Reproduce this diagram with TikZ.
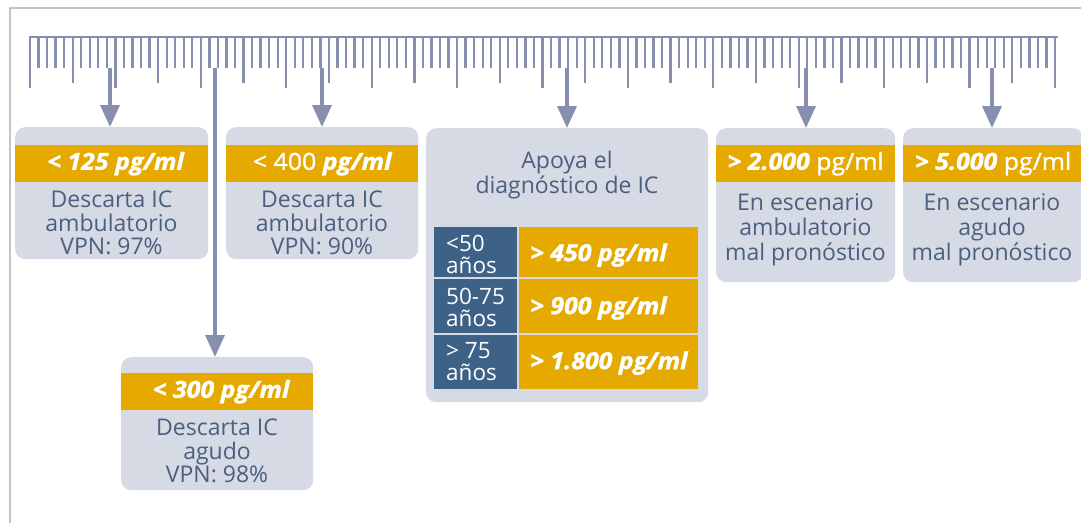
\documentclass[tikz,border=0pt]{standalone}
\usepackage{fontspec}
\setmainfont{Open Sans}
\newfontfamily\hfont[FakeStretch=1.06,FakeBold=1.3]{Open Sans}
\usetikzlibrary{arrows.meta}
\definecolor{boxfill}{HTML}{D6DAE4}
\definecolor{amber}{HTML}{E5A900}
\definecolor{slate}{HTML}{4B5F7F}
\definecolor{steel}{HTML}{3E6187}
\definecolor{rulec}{HTML}{8690AE}
\definecolor{framec}{HTML}{C4C4C4}
\begin{document}
\begin{tikzpicture}[x=1pt,y=-1pt,
  box/.style={fill=boxfill, draw=none, rounded corners=10pt, inner sep=0pt, anchor=north west},
  band/.style={fill=amber, draw=none, inner sep=0pt, minimum height=37pt, anchor=north west, text=white, font=\hfont\fontsize{23.5}{26}\selectfont},
  body/.style={text=slate, align=center, inner sep=0pt, font=\fontsize{23}{23.5}\selectfont},
  bluecell/.style={fill=steel, draw=none, inner sep=0pt, minimum width=83pt, anchor=north west},
  ambercell/.style={fill=amber, draw=none, inner sep=0pt, minimum width=179pt, anchor=north west},
  celltxt/.style={text=white, align=left, inner sep=0pt, anchor=west, font=\fontsize{22.5}{22}\selectfont},
  valtxt/.style={text=white, inner sep=0pt, anchor=west, font=\hfont\fontsize{23.5}{26}\selectfont\bfseries\itshape},
  arr/.style={draw=rulec, line width=3.5pt, -{Triangle[width=19pt,length=22pt]}}
]
\useasboundingbox (0,0) rectangle (1081,522);
\clip (0,0) rectangle (1081,522);
\draw[framec, line width=2.5pt] (10,8) rectangle (1200,600);

% ruler
\draw[rulec, line width=2pt] (29,37) -- (1058,37);
\foreach \i in {0,...,120}{
  \pgfmathtruncatemacro\m{mod(\i,10)}
  \pgfmathtruncatemacro\f{mod(\i,5)}
  \ifnum\m=0 \def\yb{88}\else\ifnum\f=0 \def\yb{83}\else\def\yb{68}\fi\fi
  \draw[rulec, line width=2.3pt] ({30+\i*8.5417},37) -- ({30+\i*8.5417},\yb);
}

% boxes
\node[box, minimum width=193pt, minimum height=132pt] (b1) at (15,127) {};
\node[box, minimum width=192pt, minimum height=132pt] (b2) at (226,127) {};
\node[box, minimum width=282pt, minimum height=274pt] (b3) at (426,128) {};
\node[box, minimum width=179pt, minimum height=154pt] (b4) at (716,128) {};
\node[box, minimum width=180pt, minimum height=154pt] (b5) at (903,128) {};
\node[box, minimum width=192pt, minimum height=133pt] (b6) at (121,357) {};

% header bands
\node[band, minimum width=193pt] (h1) at (15,145) {\bfseries\itshape \,\,< 125 pg/ml};
\node[band, minimum width=192pt] (h2) at (226,145) {< 400 \bfseries\itshape pg/ml};
\node[band, minimum width=179pt] (h4) at (716,145) {{\bfseries\itshape > 2.000} pg/ml\hspace{10pt}};
\node[band, minimum width=180pt] (h5) at (903,145) {{\bfseries\itshape > 5.000} pg/ml\hspace{8pt}};
\node[band, minimum width=192pt] (h6) at (121,373) {\bfseries\itshape \,\,< 300 pg/ml};

% body texts
\node[body] (t1) at (111.5,223) {Descarta IC\\ambulatorio\\VPN: 97\%};
\node[body] (t2) at (322,223) {Descarta IC\\ambulatorio\\VPN: 90\%};
\node[body, font=\fontsize{23}{25}\selectfont] (t3) at (567,175) {Apoya el\\diagnóstico de IC};
\node[body, font=\fontsize{23}{25}\selectfont] (t4) at (805.5,230) {En escenario\\ambulatorio\\mal pronóstico};
\node[body, font=\fontsize{23}{25}\selectfont] (t5) at (992,230) {En escenario\\agudo\\mal pronóstico};
\node[body] (t6) at (217,451) {Descarta IC\\agudo\\VPN: 98\%};

% table
\node[bluecell, minimum height=50pt] (c11) at (434,227) {};
\node[ambercell, minimum height=50pt] (c12) at (519,227) {};
\node[bluecell, minimum height=54pt] (c21) at (434,279) {};
\node[ambercell, minimum height=54pt] (c22) at (519,279) {};
\node[bluecell, minimum height=54pt] (c31) at (434,335) {};
\node[ambercell, minimum height=54pt] (c32) at (519,335) {};
\node[celltxt] (l1) at (446,254) {<50\\años};
\node[celltxt] (l2) at (446,307) {50-75\\años};
\node[celltxt] (l3) at (446,362) {> 75\\años};
\node[valtxt] (v1) at (530,255) {> 450 pg/ml};
\node[valtxt] (v2) at (530,308) {> 900 pg/ml};
\node[valtxt] (v3) at (530,363) {> 1.800 pg/ml};

% arrows
\coordinate (a1) at (110,68);
\coordinate (a2) at (215,68);
\coordinate (a3) at (322,68);
\coordinate (a4) at (567,68);
\coordinate (a5) at (806,68);
\coordinate (a6) at (992,68);
\draw[arr] (a1) -- (a1 |- b1.north);
\draw[arr] (a2) -- (a2 |- b6.north);
\draw[arr] (a3) -- (a3 |- b2.north);
\draw[arr] (a4) -- (a4 |- b3.north);
\draw[arr] (a5) -- (a5 |- b4.north);
\draw[arr] (a6) -- (a6 |- b5.north);
\end{tikzpicture}
\end{document}
